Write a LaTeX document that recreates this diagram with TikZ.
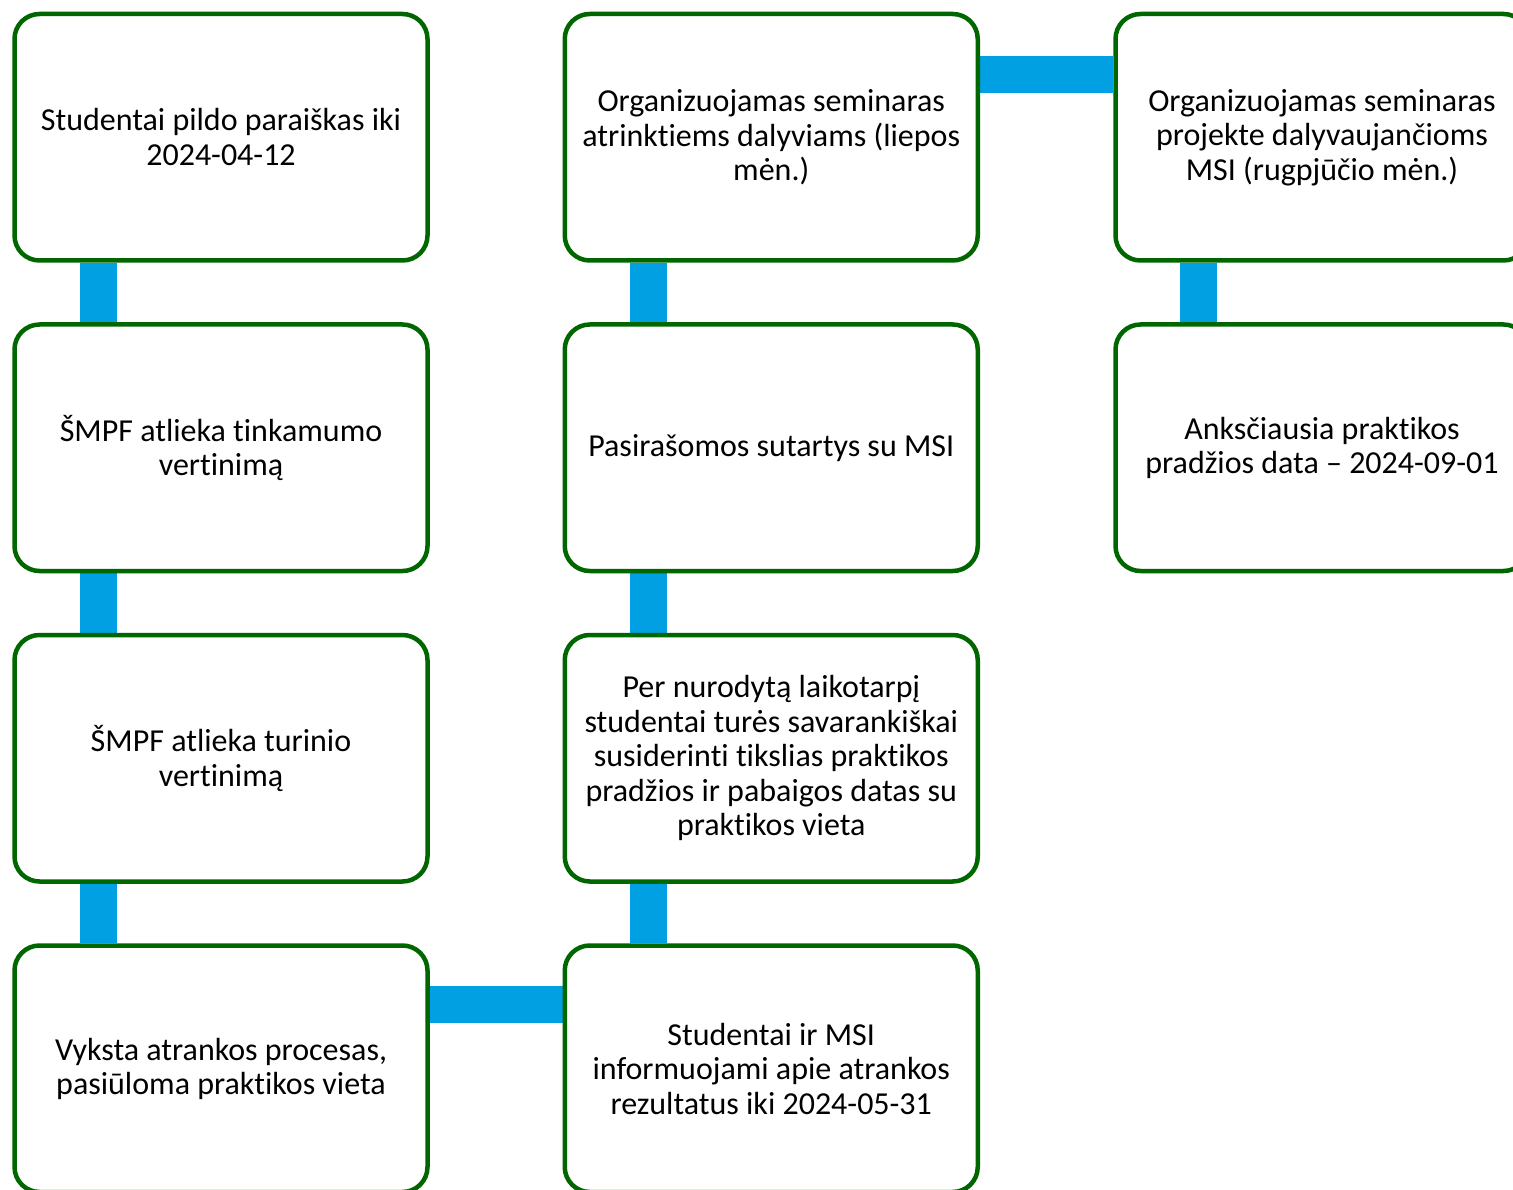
\documentclass[tikz,border=0pt]{standalone}
\usepackage{fontspec}
\setmainfont{Carlito}[Ligatures={NoCommon}]
\usetikzlibrary{backgrounds}
\definecolor{boxgreen}{RGB}{0,102,0}
\definecolor{barblue}{RGB}{0,160,227}
\begin{document}
\begin{tikzpicture}[x=1pt,y=-1pt,
  stepbox/.style={draw=boxgreen,line width=4.5pt,fill=white,rounded corners=25pt,
    minimum width=413pt,minimum height=246.5pt,align=center,inner sep=0pt,
    font=\fontsize{32}{34.5}\selectfont},
  bar/.style={draw=barblue,line width=37pt}]
\useasboundingbox (0,0) rectangle (1513,1190);
\clip (0,0) rectangle (1513,1190);
\node[stepbox] (a1) at (221,137.25) {Studentai pildo paraiškas iki\\2024-04-12};
\node[stepbox] (a2) at (221,447.75) {ŠMPF atlieka tinkamumo\\vertinimą};
\node[stepbox] (a3) at (221,758.25) {ŠMPF atlieka turinio\\vertinimą};
\node[stepbox] (a4) at (221,1068.75) {Vyksta atrankos procesas,\\pasiūloma praktikos vieta};
\node[stepbox] (b4) at (771.25,1068.75) {Studentai ir MSI\\informuojami apie atrankos\\rezultatus iki 2024-05-31};
\node[stepbox] (b3) at (771.25,758.25) {Per nurodytą laikotarpį\\studentai turės savarankiškai\\susiderinti tikslias praktikos\\pradžios ir pabaigos datas su\\praktikos vieta};
\node[stepbox] (b2) at (771.25,447.75) {Pasirašomos sutartys su MSI};
\node[stepbox] (b1) at (771.25,137.25) {Organizuojamas seminaras\\atrinktiems dalyviams (liepos\\mėn.)};
\node[stepbox] (c1) at (1322,137.25) {Organizuojamas seminaras\\projekte dalyvaujančioms\\MSI (rugpjūčio mėn.)};
\node[stepbox] (c2) at (1322,447.75) {Anksčiausia praktikos\\pradžios data – 2024-09-01};
\begin{pgfonlayer}{background}
\fill[white] (0,0) rectangle (1513,1190);
\draw[bar] ([xshift=86pt]a1.south west) -- ([xshift=86pt]a2.north west);
\draw[bar] ([xshift=86pt]a2.south west) -- ([xshift=86pt]a3.north west);
\draw[bar] ([xshift=86pt]a3.south west) -- ([xshift=86pt]a4.north west);
\draw[bar] ([yshift=-61.5pt]a4.north east) -- ([yshift=-61.5pt]b4.north west);
\draw[bar] ([xshift=85.5pt]b4.north west) -- ([xshift=85.5pt]b3.south west);
\draw[bar] ([xshift=85.5pt]b3.north west) -- ([xshift=85.5pt]b2.south west);
\draw[bar] ([xshift=85.5pt]b2.north west) -- ([xshift=85.5pt]b1.south west);
\draw[bar] ([yshift=-63pt]b1.north east) -- ([yshift=-63pt]c1.north west);
\draw[bar] ([xshift=85pt]c1.south west) -- ([xshift=85pt]c2.north west);
\end{pgfonlayer}
\end{tikzpicture}
\end{document}
